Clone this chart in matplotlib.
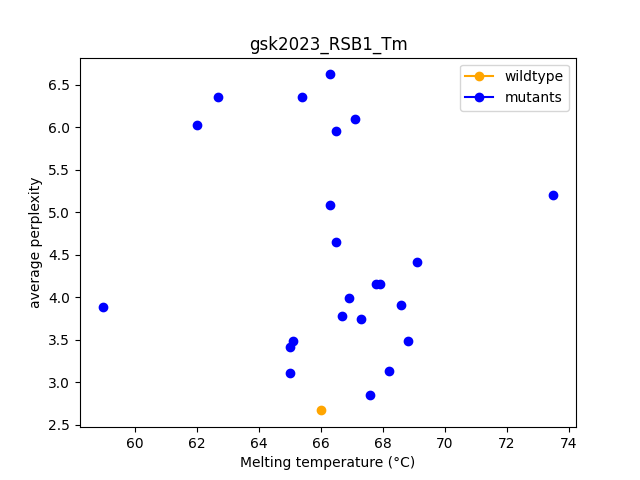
import matplotlib
matplotlib.use("Agg")
import matplotlib.pyplot as plt
from matplotlib.lines import Line2D

wt_tm = [66.0]
wt_ppl = [2.67]

mut_tm = [58.97, 62.0, 62.68, 65.39, 66.29, 66.48, 67.1, 66.29, 66.48, 73.5,
          69.1, 67.77, 67.9, 66.9, 68.6, 66.7, 67.3, 65.1, 65.0, 68.8,
          65.0, 68.2, 67.6]
mut_ppl = [3.88, 6.03, 6.35, 6.36, 6.62, 5.96, 6.09, 5.08, 4.65, 5.2,
           4.42, 4.16, 4.16, 3.99, 3.91, 3.78, 3.75, 3.49, 3.42, 3.48,
           3.11, 3.13, 2.85]

fig, ax = plt.subplots(figsize=(6.4, 4.8), dpi=100)
ax.scatter(mut_tm, mut_ppl, color='blue', s=36, zorder=2)
ax.scatter(wt_tm, wt_ppl, color='orange', s=36, zorder=3)

handles = [Line2D([0], [0], color='orange', marker='o', label='wildtype'),
           Line2D([0], [0], color='blue', marker='o', label='mutants')]
ax.legend(handles=handles, loc='upper right')
ax.set_xticks(range(60, 75, 2))
ax.set_xlabel('Melting temperature (°C)')
ax.set_ylabel('average perplexity')
ax.set_title('gsk2023_RSB1_Tm')
fig.savefig('out.png')
